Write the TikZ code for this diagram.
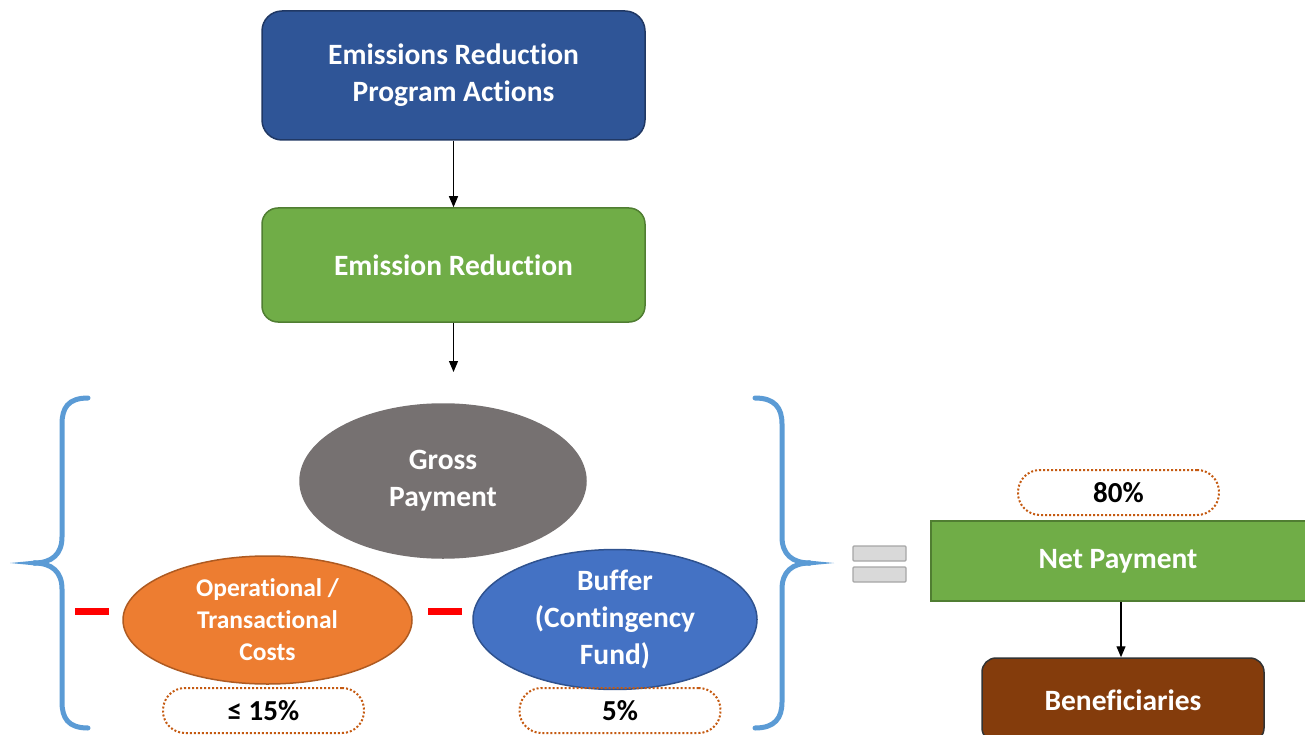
\documentclass[tikz,border=0pt]{standalone}
\usepackage{fontspec}
\setmainfont{Carlito}[Ligatures=NoCommon]
\usetikzlibrary{shapes.geometric,arrows.meta}
\definecolor{darkblue}{HTML}{2F5597}
\definecolor{darkblueline}{HTML}{203864}
\definecolor{leafgreen}{HTML}{70AD47}
\definecolor{leafline}{HTML}{507E32}
\definecolor{stone}{HTML}{767171}
\definecolor{amber}{HTML}{ED7D31}
\definecolor{amberline}{HTML}{AE5A21}
\definecolor{midblue}{HTML}{4472C4}
\definecolor{midblueline}{HTML}{2F528F}
\definecolor{bracecol}{HTML}{5B9BD5}
\definecolor{rust}{HTML}{C55A11}
\definecolor{brown}{HTML}{843C0C}
\definecolor{eqfill}{HTML}{D9D9D9}
\definecolor{eqline}{HTML}{A6A6A6}
\tikzset{
  boxtext/.style={text=white, font=\bfseries\fontsize{29.5}{37}\selectfont, align=center, inner sep=0pt},
  stepbox/.style={boxtext, draw, line width=1.5pt, rounded corners=20pt},
  oval/.style={boxtext, ellipse, draw, line width=1.5pt},
  pill/.style={draw=rust, dotted, line width=2pt, rounded corners=22pt, inner sep=0pt,
    minimum width=201pt, minimum height=45pt, text=black, font=\bfseries\fontsize{29}{32}\selectfont},
  flow/.style={-{Triangle[width=9pt,length=11pt]}, line width=1.2pt, black},
  brace/.style={draw=bracecol, line width=5pt, line cap=round},
  bracetip/.style={fill=bracecol, draw=none},
  minus/.style={fill=red, draw=none, minimum width=34pt, minimum height=7pt, inner sep=0pt},
  eqbar/.style={fill=eqfill, draw=eqline, line width=1.2pt, minimum width=53pt, minimum height=15pt, inner sep=0pt, rounded corners=1pt}
}
\begin{document}
\begin{tikzpicture}[x=1pt,y=-1pt]
\useasboundingbox (0,0) rectangle (1305,735);

% top flow
\node[stepbox, fill=darkblue, draw=darkblueline, minimum width=383pt, minimum height=129pt]
  (actions) at (453.5,75.5) {Emissions Reduction\\Program Actions};
\node[stepbox, fill=leafgreen, draw=leafline, rounded corners=16pt, minimum width=383pt, minimum height=114pt]
  (reduction) at (453.5,265) {Emission Reduction};
\coordinate (flowend) at (453.5,372);
\draw[flow] (actions) -- (reduction);
\draw[flow] (reduction) -- (flowend);

% payment components
\node[oval, fill=stone, draw=stone, minimum width=286pt, minimum height=154pt]
  (gross) at (443,481) {Gross\\Payment};
\node[oval, fill=amber, draw=amberline, minimum width=289pt, minimum height=128pt,
  font=\bfseries\fontsize{25.5}{32}\selectfont]
  (opcost) at (267.5,620) {Operational /\\Transactional\\Costs};
\node[oval, fill=midblue, draw=midblueline, minimum width=284pt, minimum height=129pt]
  (buffer) at (615,619.5) {Buffer\\(Contingency\\Fund)};

\node[minus] (minusA) at (92,611) {};
\node[minus] (minusB) at (444.5,611) {};

\node[pill] (pctA) at (263.5,710.5) {≤ 15\%};
\node[pill] (pctB) at (620,710.5) {5\%};

% braces: stroked arms with a pointed tip
\path[brace] (88,398) .. controls (68,398) and (62,408) .. (62,424)
  -- (62,537) .. controls (62,554) and (52,563) .. (34,563);
\path[brace] (34,563) .. controls (52,563) and (62,572) .. (62,589)
  -- (62,702) .. controls (62,718) and (68,728) .. (88,728);
\fill[bracetip] (36,560.5) -- (10,563) -- (36,565.5) -- cycle;
\path[brace] (755,398) .. controls (775,398) and (782,408) .. (782,424)
  -- (782,537) .. controls (782,554) and (792,563) .. (810,563);
\path[brace] (810,563) .. controls (792,563) and (782,572) .. (782,589)
  -- (782,702) .. controls (782,718) and (775,728) .. (755,728);
\fill[bracetip] (808,560.5) -- (834,563) -- (808,565.5) -- cycle;

% equals sign
\node[eqbar] (eqtop) at (879.5,553.5) {};
\node[eqbar] (eqbot) at (879.5,574.5) {};

% result
\node[pill] (pctC) at (1118.5,492.5) {80\%};
\node[boxtext, fill=leafgreen, draw=leafline, line width=1.5pt, minimum width=380pt, minimum height=80pt]
  (net) at (1121,561) {\hspace*{-6pt}\raisebox{-2pt}{Net Payment}};
\node[stepbox, fill=brown, draw=black!80, rounded corners=14pt, minimum width=282pt, minimum height=84pt]
  (benef) at (1123,700) {\raisebox{-2pt}{Beneficiaries}};
\draw[flow] (net.south) -- (net.south |- benef.north);
\end{tikzpicture}
\end{document}
